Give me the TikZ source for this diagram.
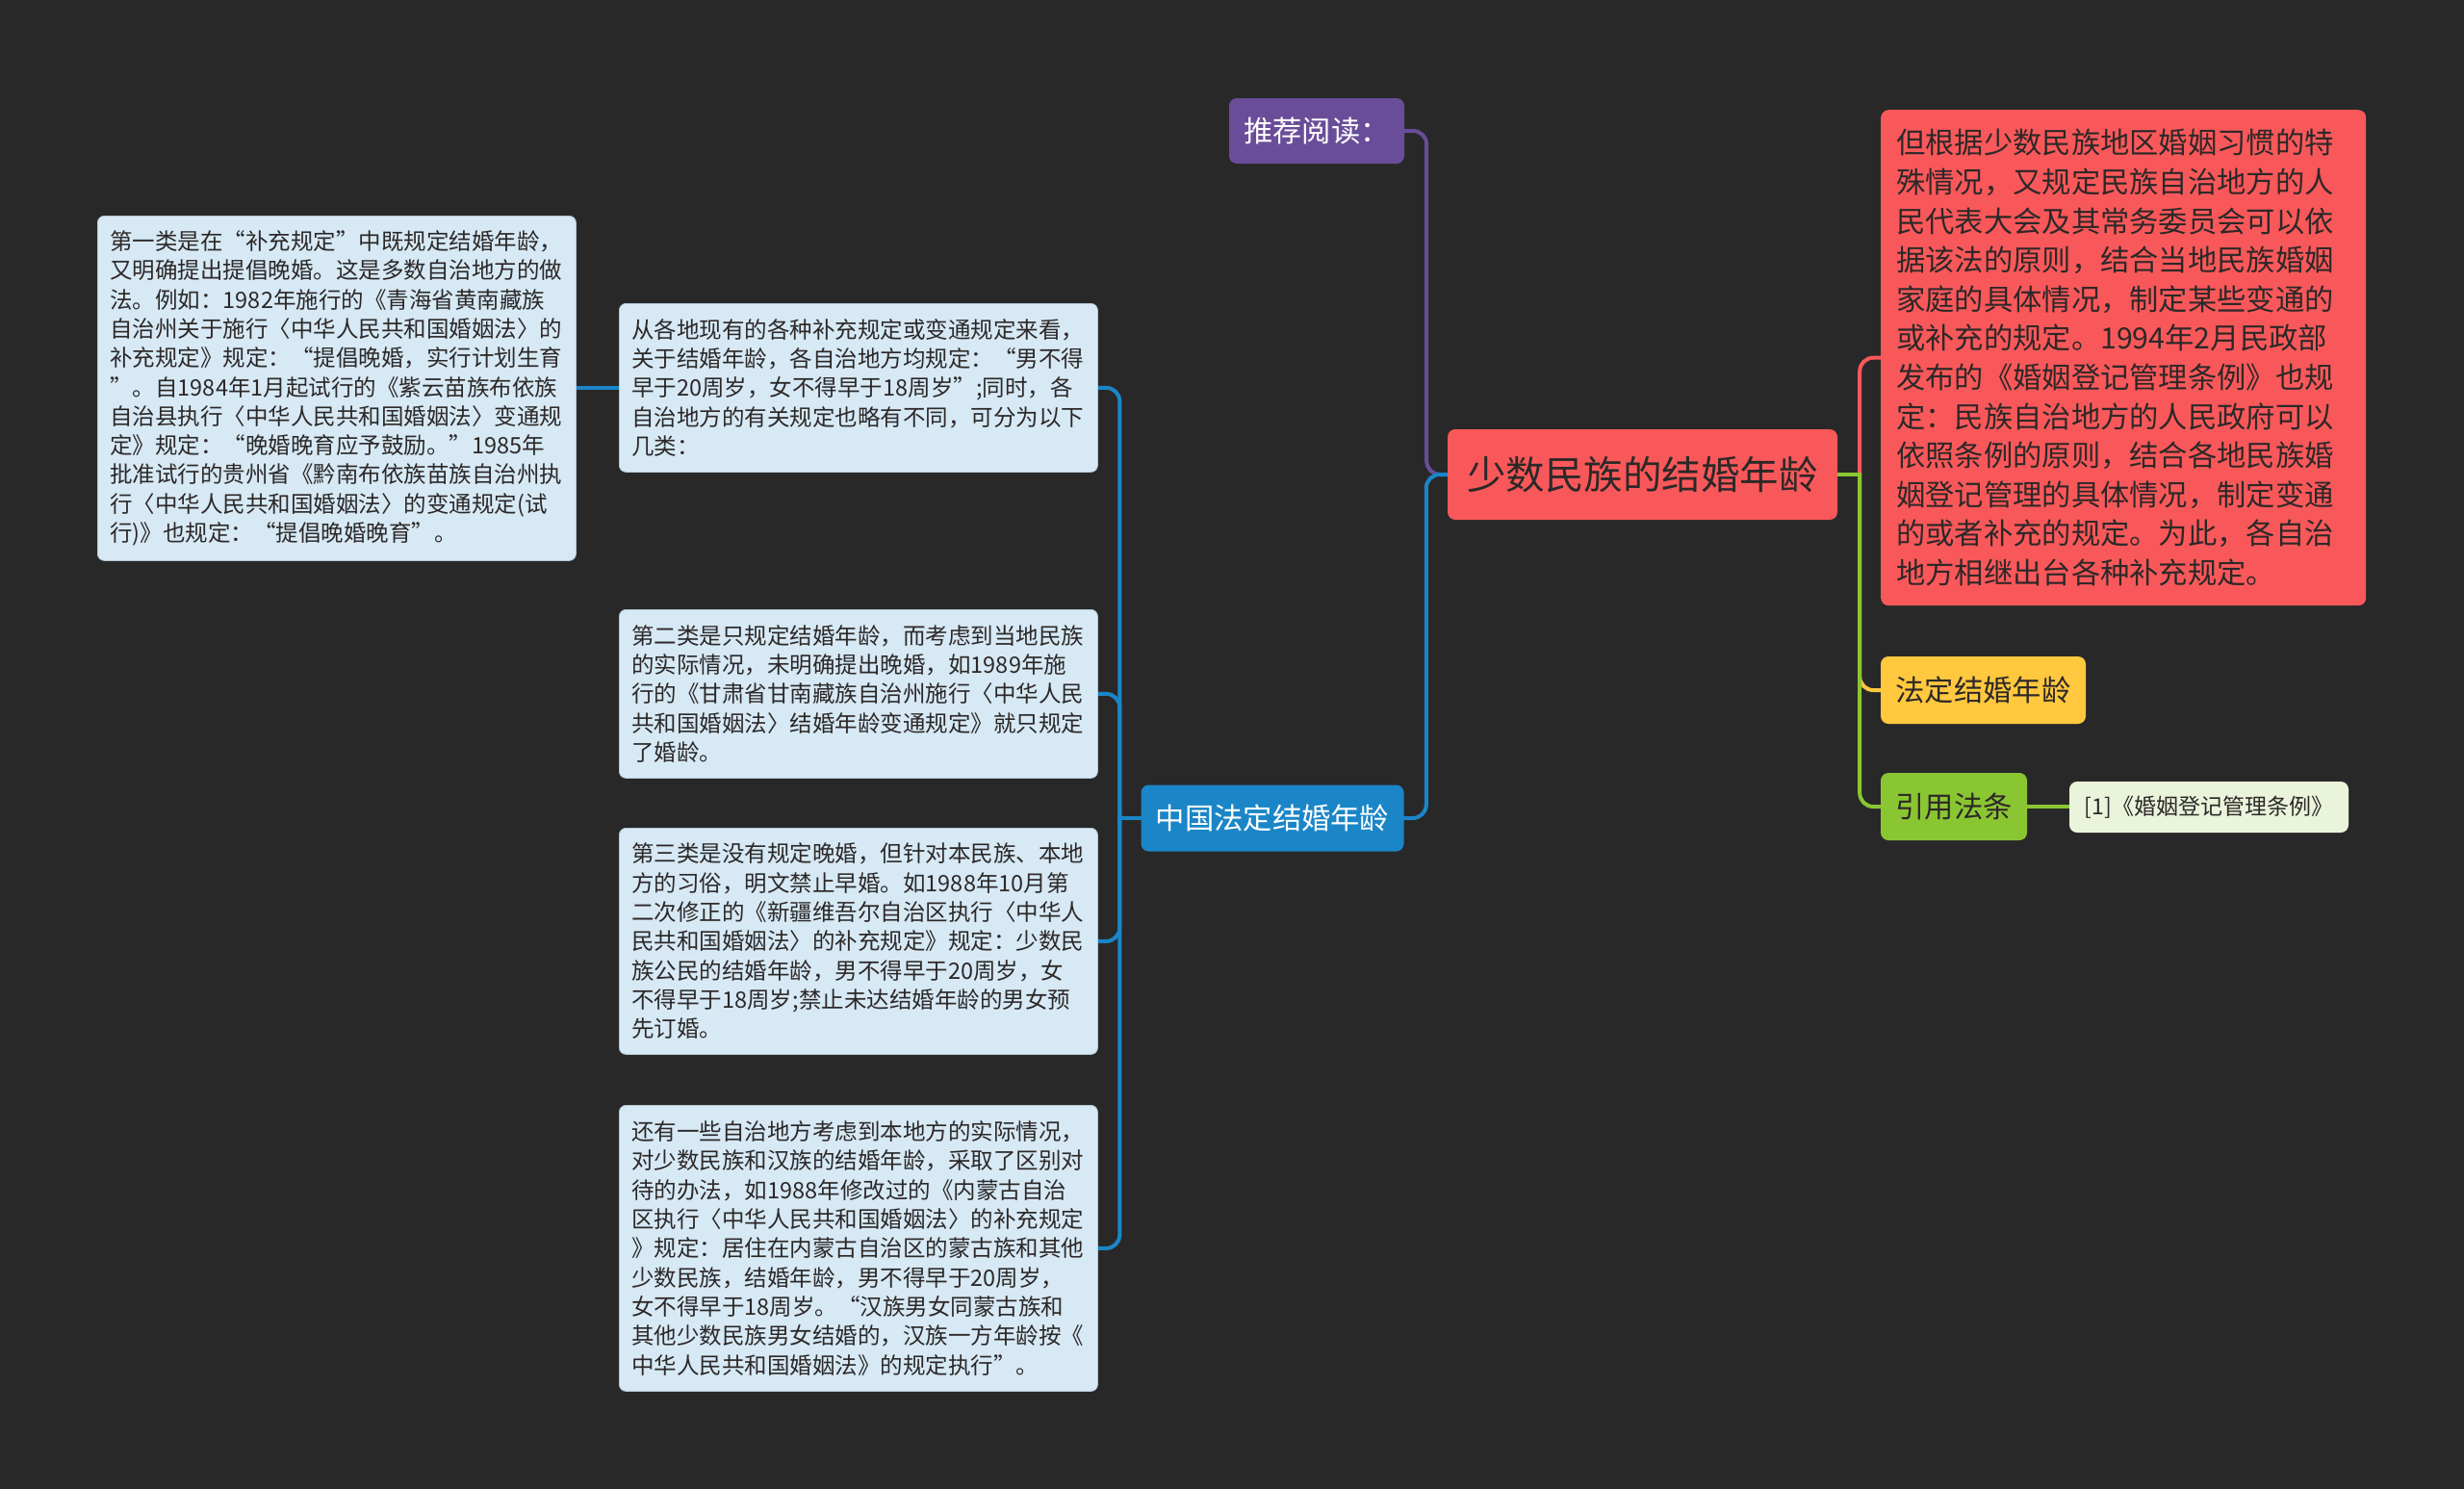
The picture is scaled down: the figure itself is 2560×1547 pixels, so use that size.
\documentclass[tikz,border=0pt]{standalone}
\usepackage{fontspec}
\setmainfont{Noto Sans CJK SC}
\newfontfamily\fwq[RawFeature=+fwid]{Noto Sans CJK SC}
\newcommand\qo{{\fwq “}}
\newcommand\qc{{\fwq ”}}
\usetikzlibrary{calc}
\definecolor{bgc}{RGB}{40,40,40}
\definecolor{cred}{RGB}{249,88,90}
\definecolor{cpurple}{RGB}{106,77,152}
\definecolor{cblue}{RGB}{27,134,199}
\definecolor{cyellow}{RGB}{255,200,62}
\definecolor{cgreen}{RGB}{138,198,50}
\definecolor{lblue}{RGB}{214,233,245}
\definecolor{lbluedark}{RGB}{180,200,215}
\definecolor{lgreen}{RGB}{234,244,219}
\definecolor{tdark}{RGB}{45,40,40}
\pgfdeclarelayer{bglayer}
\pgfdeclarelayer{edgelayer}
\pgfsetlayers{bglayer,edgelayer,main}
\tikzset{
  lbox/.style={fill=lblue, draw=lbluedark, line width=0.8pt, rounded corners=7pt, text=tdark,
    align=left, inner xsep=13pt, inner ysep=0pt, text width=471pt, anchor=north west,
    font=\fontsize{23.5}{30.3}\selectfont},
  topic/.style={rounded corners=8pt, inner sep=0pt, align=center, font=\fontsize{30.3}{36}\selectfont},
  conn/.style={line width=4pt, rounded corners=14pt, line cap=round}
}
\begin{document}
\begin{tikzpicture}[x=1pt,y=-1pt]
\useasboundingbox (0,0) rectangle (2560,1547);
\begin{pgfonlayer}{bglayer}
\fill[bgc] (0,0) rectangle (2560,1547);
\end{pgfonlayer}

% central
\node[topic, fill=cred, text=tdark, minimum width=405pt, minimum height=94pt,
  font=\fontsize{40.5}{48}\selectfont] (c) at (1706.5,493) {少数民族的结婚年龄};

% left topics
\node[topic, fill=cpurple, text=white, minimum width=182pt, minimum height=68pt] (tj) at (1368,136) {推荐阅读：};
\node[topic, fill=cblue, text=white, minimum width=273pt, minimum height=69pt] (zg) at (1322,850) {中国法定结婚年龄};

% left text boxes
\node[lbox, minimum height=358pt] (b1) at (101,224) {第一类是在\qo 补充规定\qc 中既规定结婚年龄，\\又明确提出提倡晚婚。这是多数自治地方的做\\法。例如：1982年施行的《青海省黄南藏族\\自治州关于施行〈中华人民共和国婚姻法〉的\\补充规定》规定：\qo 提倡晚婚，实行计划生育\\\qc 。自1984年1月起试行的《紫云苗族布依族\\自治县执行〈中华人民共和国婚姻法〉变通规\\定》规定：\qo 晚婚晚育应予鼓励。\qc 1985年\\批准试行的贵州省《黔南布依族苗族自治州执\\行〈中华人民共和国婚姻法〉的变通规定(试\\行)》也规定：\qo 提倡晚婚晚育\qc 。};
\node[lbox, minimum height=175pt] (b0) at (643,315) {从各地现有的各种补充规定或变通规定来看，\\关于结婚年龄，各自治地方均规定：\qo 男不得\\早于20周岁，女不得早于18周岁\qc ;同时，各\\自治地方的有关规定也略有不同，可分为以下\\几类：};
\node[lbox, minimum height=175pt] (b2) at (643,633) {第二类是只规定结婚年龄，而考虑到当地民族\\的实际情况，未明确提出晚婚，如1989年施\\行的《甘肃省甘南藏族自治州施行〈中华人民\\共和国婚姻法〉结婚年龄变通规定》就只规定\\了婚龄。};
\node[lbox, minimum height=235pt] (b3) at (643,860) {第三类是没有规定晚婚，但针对本民族、本地\\方的习俗，明文禁止早婚。如1988年10月第\\二次修正的《新疆维吾尔自治区执行〈中华人\\民共和国婚姻法〉的补充规定》规定：少数民\\族公民的结婚年龄，男不得早于20周岁，女\\不得早于18周岁;禁止未达结婚年龄的男女预\\先订婚。};
\node[lbox, minimum height=297pt] (b4) at (643,1148) {还有一些自治地方考虑到本地方的实际情况，\\对少数民族和汉族的结婚年龄，采取了区别对\\待的办法，如1988年修改过的《内蒙古自治\\区执行〈中华人民共和国婚姻法〉的补充规定\\》规定：居住在内蒙古自治区的蒙古族和其他\\少数民族，结婚年龄，男不得早于20周岁，\\女不得早于18周岁。\qo 汉族男女同蒙古族和\\其他少数民族男女结婚的，汉族一方年龄按《\\中华人民共和国婚姻法》的规定执行\qc 。};

% right side
\node[anchor=north west, fill=cred, rounded corners=8pt, text=tdark, align=left,
  inner xsep=16pt, inner ysep=0pt, text width=472pt, minimum height=515pt,
  font=\fontsize{30.3}{40.6}\selectfont] (rb) at (1954,114) {但根据少数民族地区婚姻习惯的特\\殊情况，又规定民族自治地方的人\\民代表大会及其常务委员会可以依\\据该法的原则，结合当地民族婚姻\\家庭的具体情况，制定某些变通的\\或补充的规定。1994年2月民政部\\发布的《婚姻登记管理条例》也规\\定：民族自治地方的人民政府可以\\依照条例的原则，结合各地民族婚\\姻登记管理的具体情况，制定变通\\的或者补充的规定。为此，各自治\\地方相继出台各种补充规定。};
\node[topic, fill=cyellow, text=tdark, minimum width=213pt, minimum height=70pt] (fd) at (2060.5,717) {法定结婚年龄};
\node[topic, fill=cgreen, text=tdark, minimum width=152pt, minimum height=70pt] (yy) at (2030,838) {引用法条};
\node[topic, fill=lgreen, text=tdark, minimum width=290pt, minimum height=53pt,
  font=\fontsize{23}{28}\selectfont] (tl) at (2295,838.5) {[1]《婚姻登记管理条例》};

% connectors
\begin{pgfonlayer}{edgelayer}
\draw[conn, cpurple] (tj.east) -- ++(23,0) |- (c.west);
\draw[conn, cblue] (c.west) -- ++(-22,0) |- (zg.east);
\draw[conn, cblue] (zg.west) -- ++(-22,0);
\draw[conn, cblue] (zg.west) ++(-22,0) |- (b0.east);
\draw[conn, cblue] (zg.west) ++(-22,0) |- (b2.east);
\draw[conn, cblue] (zg.west) ++(-22,0) |- (b3.east);
\draw[conn, cblue] (zg.west) ++(-22,0) |- (b4.east);
\draw[conn, cblue] (b1.east) -- (b1.east -| b0.west);
\draw[conn, cred] (c.east) ++(23,0) |- (rb.west);
\draw[conn, cyellow] (c.east) ++(23,0) |- (fd.west);
\draw[conn, cgreen] (c.east) -- ++(23,0);
\draw[conn, cgreen] (c.east) ++(23,0) |- (yy.west);
\draw[conn, cgreen] (yy.east) -- (yy.east -| tl.west);
\end{pgfonlayer}
\end{tikzpicture}
\end{document}
